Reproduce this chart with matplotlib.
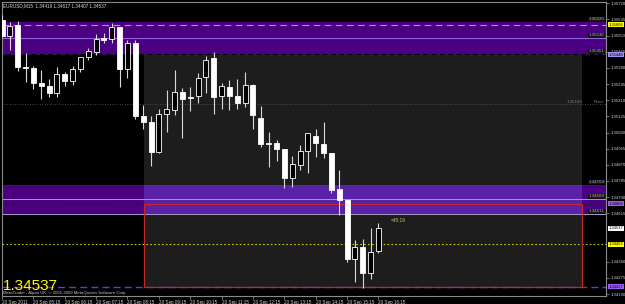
import matplotlib
matplotlib.use("Agg")
import matplotlib.pyplot as plt
from matplotlib.patches import Rectangle
from matplotlib.transforms import blended_transform_factory

plt.rcParams['font.family'] = ['Liberation Sans', 'DejaVu Sans']

# ---------------- data ----------------
time_labels = ["20 Sep 2011", "20 Sep 05:15", "20 Sep 06:15", "20 Sep 07:15",
               "20 Sep 08:15", "20 Sep 09:15", "20 Sep 10:15", "20 Sep 11:15",
               "20 Sep 12:15", "20 Sep 13:15", "20 Sep 14:15", "20 Sep 15:15",
               "20 Sep 16:15"]
label_every = 4

opens = [1.35632, 1.35548, 1.35604, 1.35383, 1.35378, 1.35301, 1.35285, 1.35246, 1.35348, 1.35310,
         1.35373, 1.35436, 1.35465, 1.35536, 1.35531, 1.35597, 1.35376, 1.35510, 1.35127, 1.35097,
         1.34939, 1.35136, 1.35159, 1.35255, 1.35229, 1.35232, 1.35331, 1.35431, 1.35232, 1.35281,
         1.35232, 1.35197, 1.35290, 1.35118, 1.34983, 1.34983, 1.34952, 1.34799, 1.34871, 1.34943,
         1.35022, 1.34980, 1.34934, 1.34741, 1.34685, 1.34373, 1.34439, 1.34302, 1.34419]
highs = [1.35659, 1.35623, 1.35629, 1.35459, 1.35390, 1.35369, 1.35322, 1.35386, 1.35360, 1.35390,
         1.35439, 1.35483, 1.35559, 1.35562, 1.35618, 1.35597, 1.35527, 1.35527, 1.35185, 1.35127,
         1.35162, 1.35264, 1.35369, 1.35276, 1.35281, 1.35353, 1.35443, 1.35465, 1.35299, 1.35316,
         1.35322, 1.35360, 1.35295, 1.35181, 1.35044, 1.35001, 1.34952, 1.34916, 1.34974, 1.35039,
         1.35057, 1.35097, 1.34934, 1.34843, 1.34685, 1.34474, 1.34478, 1.34536, 1.34565]
lows = [1.35545, 1.35474, 1.35365, 1.35307, 1.35269, 1.35216, 1.35225, 1.35229, 1.35285, 1.35290,
        1.35360, 1.35422, 1.35448, 1.35510, 1.35510, 1.35279, 1.35325, 1.35110, 1.35057, 1.34864,
        1.34931, 1.35044, 1.35132, 1.35010, 1.35155, 1.35197, 1.35246, 1.35137, 1.35162, 1.35159,
        1.35162, 1.35176, 1.35057, 1.34962, 1.34857, 1.34892, 1.34746, 1.34752, 1.34843, 1.34825,
        1.34913, 1.34904, 1.34720, 1.34606, 1.34357, 1.34255, 1.34220, 1.34267, 1.34407]
closes = [1.35548, 1.35602, 1.35383, 1.35380, 1.35299, 1.35286, 1.35246, 1.35348, 1.35310, 1.35373,
          1.35436, 1.35471, 1.35532, 1.35527, 1.35594, 1.35373, 1.35513, 1.35127, 1.35097, 1.34939,
          1.35136, 1.35162, 1.35255, 1.35216, 1.35220, 1.35325, 1.35422, 1.35229, 1.35285, 1.35232,
          1.35197, 1.35289, 1.35132, 1.34980, 1.34980, 1.34952, 1.34799, 1.34874, 1.34944, 1.35036,
          1.34983, 1.34934, 1.34737, 1.34685, 1.34373, 1.34439, 1.34299, 1.34413, 1.34537]

price_ticks = [1.35720, 1.35635, 1.35550, 1.35465, 1.35380, 1.35295, 1.35210, 1.35125, 1.35040,
               1.34955, 1.34870, 1.34785, 1.34700, 1.34615, 1.34360, 1.34275, 1.34190]

upper_zone = (1.35620, 1.35451)
upper_zone_mid = 1.35536
upper_zone_dash = 1.35606
lower_zone = (1.34764, 1.34611)
lower_zone_mid = 1.34689
box_top = 1.34664
box_bottom = 1.34227
session_top = 1.35448
pivot = 1.35189
yellow_level = 1.34453
current = 1.34537

title = "EURUSD,M15  1.34419 1.34617 1.34407 1.34537"
copyright_txt = "MetaTrader - Alpari UK, \u00a9 2001-2009 MetaQuotes Software Corp."
timer_txt = "<45:19"

# ---------------- figure ----------------
W, H = 625, 304
fig = plt.figure(figsize=(W / 100, H / 100), dpi=100, facecolor="black")
ax = fig.add_axes([2 / W, 1 - 296 / H, 604 / W, 294 / H])
ax.set_facecolor("black")
x_lo, x_hi = 0.14, 77.01
ax.set_xlim(x_lo, x_hi)
ax.set_ylim(1.341796, 1.357269)
for s in ax.spines.values():
    s.set_color("#8a8a8a")
    s.set_linewidth(0.8)

reg_x0, reg_x1 = 18.1, 73.95
purple = "#4b0082"
# zones
ax.add_patch(Rectangle((x_lo, upper_zone[1]), x_hi - x_lo, upper_zone[0] - upper_zone[1],
                       facecolor=purple, edgecolor="none", zorder=1))
ax.add_patch(Rectangle((x_lo, lower_zone[1]), x_hi - x_lo, lower_zone[0] - lower_zone[1],
                       facecolor=purple, edgecolor="none", zorder=1))
# session region (grey)
ax.add_patch(Rectangle((reg_x0, box_bottom), reg_x1 - reg_x0, session_top - box_bottom,
                       facecolor="#1d1d1d", edgecolor="none", zorder=1.2))
ax.add_patch(Rectangle((reg_x0, lower_zone[1]), reg_x1 - reg_x0, lower_zone[0] - lower_zone[1],
                       facecolor="#5a22a6", edgecolor="none", zorder=1.3))

# lines
ax.axhline(upper_zone_dash, color="#c58ac8", lw=0.8, ls=(0, (6, 4)), zorder=2)
ax.axhline(upper_zone_mid, color="#8f63d8", lw=0.8, zorder=2)
ax.axhline(upper_zone[1], color="#2a1846", lw=1.0, ls=(0, (3, 3)), zorder=2)
ax.axhline(lower_zone_mid, color="#a592e0", lw=0.7, zorder=2)
ax.axhline(lower_zone[1], color="#a99ac0", lw=0.7, zorder=2)
ax.axhline(box_top, color="#2a1050", lw=0.9, ls=(0, (4, 3)), zorder=2)
ax.axhline(pivot, color="#5a5a5a", lw=0.6, ls=(0, (1, 2)), zorder=2)
ax.axhline(yellow_level, color="#c8c800", lw=0.8, ls=(0, (1.5, 2)), zorder=2)
ax.axhline(box_bottom, color="#8a28d0", lw=1.0, ls=(0, (5, 3)), zorder=2)
ax.add_patch(Rectangle((reg_x0, box_bottom), reg_x1 - reg_x0, box_top - box_bottom,
                       facecolor="none", edgecolor="#c42828", lw=0.9, zorder=2.5))

# candles
xs = list(range(len(opens)))
ax.vlines(xs, lows, highs, color="#d8d8d8", lw=0.8, zorder=3)
for i in xs:
    o, c = opens[i], closes[i]
    bottom = min(o, c)
    height = max(abs(c - o), 0.000012)
    face = "white" if c < o else "black"
    ax.bar(i, height, bottom=bottom, width=0.64, color=face, edgecolor="white",
           linewidth=0.6, zorder=4)

# axis ticks
ax.set_xticks(xs[::label_every])
ax.set_xticklabels(time_labels, fontsize=3.3, color="#d0d0d0", ha="left")
ax.tick_params(axis="x", direction="out", length=2, width=0.5, color="#9a9a9a", pad=0.6)
ax.yaxis.tick_right()
ax.set_yticks(price_ticks)
ax.set_yticklabels([f"{p:.5f}" for p in price_ticks], fontsize=3.1, color="#d0d0d0")
ax.tick_params(axis="y", direction="out", length=2, width=0.5, color="#9a9a9a", pad=1.0)

# axis markers
bt = blended_transform_factory(ax.transAxes, ax.transData)
def axis_label(val, bg, fg="black"):
    ax.text(1.0045, val, f"{val:.5f}", transform=bt, fontsize=3.0, color=fg, va="center",
            ha="left", clip_on=False, zorder=10,
            bbox=dict(boxstyle="square,pad=0.12", facecolor=bg, edgecolor="none"))
axis_label(upper_zone_dash, "#ffff00")
axis_label(session_top, "#a08cf0")
axis_label(box_top, "#9c5cf0")
axis_label(current, "white")
axis_label(yellow_level, "#ffff00")
axis_label(box_bottom, "#9c5cf0")

# labels of zone lines inside chart
for v in [upper_zone[0] + 0.00005, upper_zone_mid + 0.00005, upper_zone[1] + 0.00005,
          lower_zone[0] + 0.00005, lower_zone_mid + 0.00005, lower_zone[1] + 0.00005]:
    ax.text(x_hi - 0.2, v, f"{v - 0.00005:.5f}", fontsize=3.2, color="#b0a8d0", ha="right",
            va="bottom", zorder=6,
            bbox=dict(boxstyle="square,pad=0.1", facecolor="#141414", edgecolor="none"))
ax.text(x_hi - 3.0, pivot + 0.00003, f"{pivot:.5f}", fontsize=3.2, color="#7a7a7a",
        ha="right", va="bottom", zorder=6)
ax.text(x_hi - 0.3, pivot + 0.00003, "Pivot", fontsize=3.2, color="#7a7a7a",
        ha="right", va="bottom", zorder=6)

# texts
fig.text(3 / W, 1 - 5.5 / H, title, fontsize=3.35, color="#d8d8d8", va="center", ha="left")
fig.text(3 / W, 1 - 289.5 / H, f"{current:.5f}", fontsize=11, color="#ffff00",
         va="baseline", ha="left")
fig.text(3 / W, 1 - 293 / H, copyright_txt, fontsize=3.1, color="#c0c0c0",
         va="center", ha="left")
ax.text(len(opens) + 0.6, highs[-1] + 0.0001, timer_txt, fontsize=3.4, color="#c8c870",
        ha="left", va="center", zorder=6)

fig.savefig("out.png", dpi=100, facecolor="black")
